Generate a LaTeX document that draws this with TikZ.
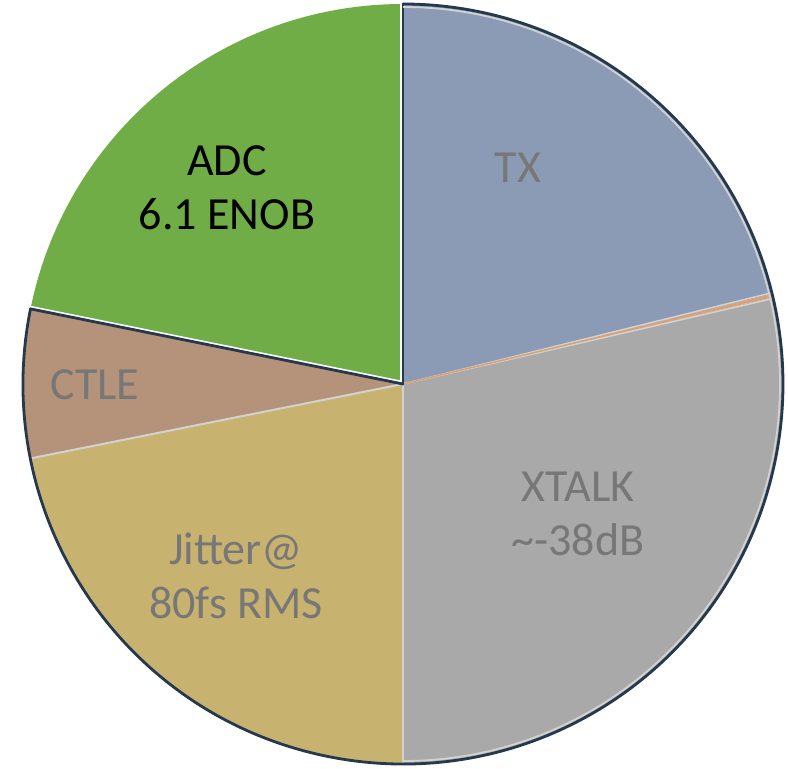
\documentclass[tikz,border=0pt]{standalone}
\usepackage{fontspec}
\setmainfont{Carlito}
\definecolor{txc}{HTML}{8B9BB6}
\definecolor{xtc}{HTML}{A9A9A9}
\definecolor{jic}{HTML}{C8B270}
\definecolor{ctc}{HTML}{B5927A}
\definecolor{adc}{HTML}{70AD47}
\definecolor{orc}{HTML}{DDA070}
\definecolor{darkc}{HTML}{26384C}
\definecolor{sepc}{HTML}{D2D2D2}
\definecolor{lblc}{HTML}{777777}
\begin{document}
\begin{tikzpicture}[x=1pt,y=1pt,
  lbl/.style={align=center,text=lblc,font=\fontsize{46}{54}\selectfont,inner sep=0pt},
  sepline/.style={draw=sepc,line width=2pt},
  whiteline/.style={draw=white,line width=2.2pt},
  darkline/.style={draw=darkc,line width=2.8pt,line cap=round}]
\useasboundingbox (0,0) rectangle (788,769);
\coordinate (C) at (403,385);
\def\R{380}
% slices
\fill[adc] (C) -- ++(90:\R) arc[start angle=90,end angle=168.6,radius=\R] -- cycle;
\fill[ctc] (C) -- ++(168.6:\R) arc[start angle=168.6,end angle=191.3,radius=\R] -- cycle;
\fill[jic] (C) -- ++(191.3:\R) arc[start angle=191.3,end angle=270,radius=\R] -- cycle;
\fill[xtc] (C) -- ++(-90:\R) arc[start angle=-90,end angle=13.2,radius=\R] -- cycle;
\fill[orc] (C) -- ++(13.2:\R) arc[start angle=13.2,end angle=13.7,radius=\R] -- cycle;
\fill[txc] (C) -- ++(13.7:\R) arc[start angle=13.7,end angle=90,radius=\R] -- cycle;
% separators
\path (C) ++(13.0:\R) coordinate (s1);
\path (C) ++(13.9:\R) coordinate (s2);
\path (C) ++(13.45:\R) coordinate (s3);
\path (C) ++(270:\R) coordinate (s4);
\path (C) ++(191.3:\R) coordinate (s5);
\path (C) ++(168.6:\R) coordinate (s6);
\path (C) ++(90:\R) coordinate (s7);
\draw[sepline,line width=1.5pt] (C) -- (s1);
\draw[sepline,line width=1.5pt] (C) -- (s2);
\draw[draw=orc,line width=1.5pt] (C) -- (s3);
\draw[sepline] (C) -- (s4);
\draw[sepline] (C) -- (s5);
% white borders of ADC
\draw[whiteline] ([yshift=2pt]C) -- ([yshift=2pt]s6);
\draw[whiteline] ([xshift=-2pt]C) -- ([xshift=-2pt]s7);
% dark outlines
\draw[darkline] (C) -- (s7);
\draw[darkline] (C) -- (s6);
\draw[draw=sepc,line width=1.8pt] (C) ++(-90:\R-3) arc[start angle=-90,end angle=90,radius=\R-3];
\draw[darkline] (C) ++(168.6:\R) arc[start angle=168.6,end angle=450,radius=\R];
% labels
\node[lbl] (tx) at (518,601) {TX};
\node[lbl,text=black] (adcl) at (227,581) {ADC\\6.1 ENOB};
\node[lbl] (ctle) at (95,384) {CTLE};
\node[lbl] (xt) at (578,255) {XTALK\\\textasciitilde-38dB};
\node[lbl] (ji) at (236,193) {Jitter@\\80fs RMS};
\end{tikzpicture}
\end{document}
